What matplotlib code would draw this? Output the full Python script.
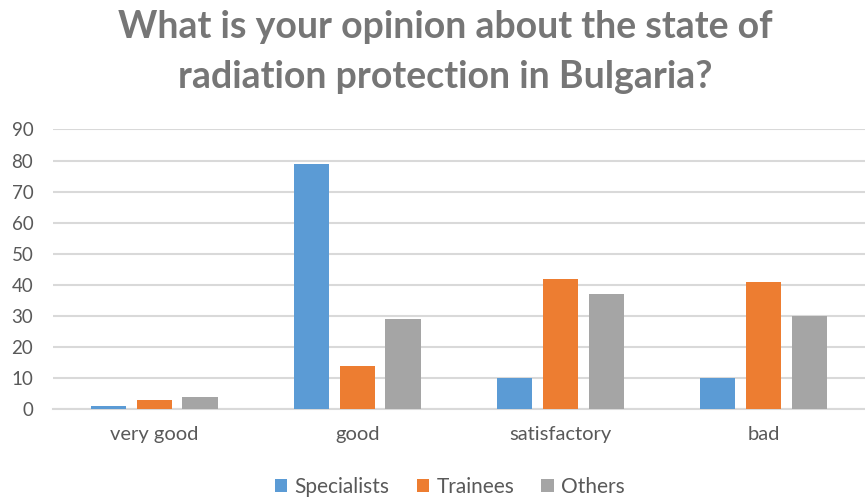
import matplotlib
matplotlib.use("Agg")
import matplotlib.pyplot as plt
import numpy as np

categories = ["very good", "good", "satisfactory", "bad"]
series_names = ["Specialists", "Trainees", "Others"]
specialists = [1, 79, 10, 10]
trainees = [3, 14, 42, 41]
others = [4, 29, 37, 30]
y_ticks = [0, 10, 20, 30, 40, 50, 60, 70, 80, 90]
title_lines = ["What is your opinion about the state of",
               "radiation protection in Bulgaria?"]

colors = ["#5B9BD5", "#ED7D31", "#A5A5A5"]
text_gray = "#595959"

plt.rcParams["font.family"] = ["Lato", "DejaVu Sans"]

fig = plt.figure(figsize=(8.65, 5.0), dpi=100)
ax = fig.add_axes([0.061, 0.182, 0.939, 0.559])

x = np.arange(len(categories))
width = 0.173
step = 0.225
for i, (vals, name, col) in enumerate(zip([specialists, trainees, others], series_names, colors)):
    ax.bar(x + (i - 1) * step, vals, width=width, color=col, label=name, zorder=3)

ax.set_xlim(-0.5, len(categories) - 0.5)
ax.set_ylim(0, 90)
ax.set_yticks(y_ticks)
ax.set_xticks(x)
ax.set_xticklabels(categories, fontsize=14.5)
ax.yaxis.grid(True, color="#D9D9D9", linewidth=1.5, zorder=0)
ax.set_axisbelow(True)
for s in ["top", "right", "left"]:
    ax.spines[s].set_visible(False)
ax.spines["bottom"].set_color("#D9D9D9")
ax.spines["bottom"].set_linewidth(1.5)
ax.tick_params(axis="both", length=0, colors=text_gray)
ax.tick_params(axis="y", pad=14, labelsize=13.5)
ax.tick_params(axis="x", pad=12)

for line, ypos in zip(title_lines, [0.924, 0.824]):
    fig.text(0.515, ypos, line, ha="center", va="baseline", fontsize=27,
             fontweight="bold", color="#767676")

fig.legend(loc="center", bbox_to_anchor=(0.52, 0.026), ncol=3, frameon=False,
           fontsize=15, labelcolor=text_gray, handlelength=0.6, handleheight=0.6,
           handletextpad=0.35, columnspacing=1.3)

fig.savefig("out.png", dpi=100)
